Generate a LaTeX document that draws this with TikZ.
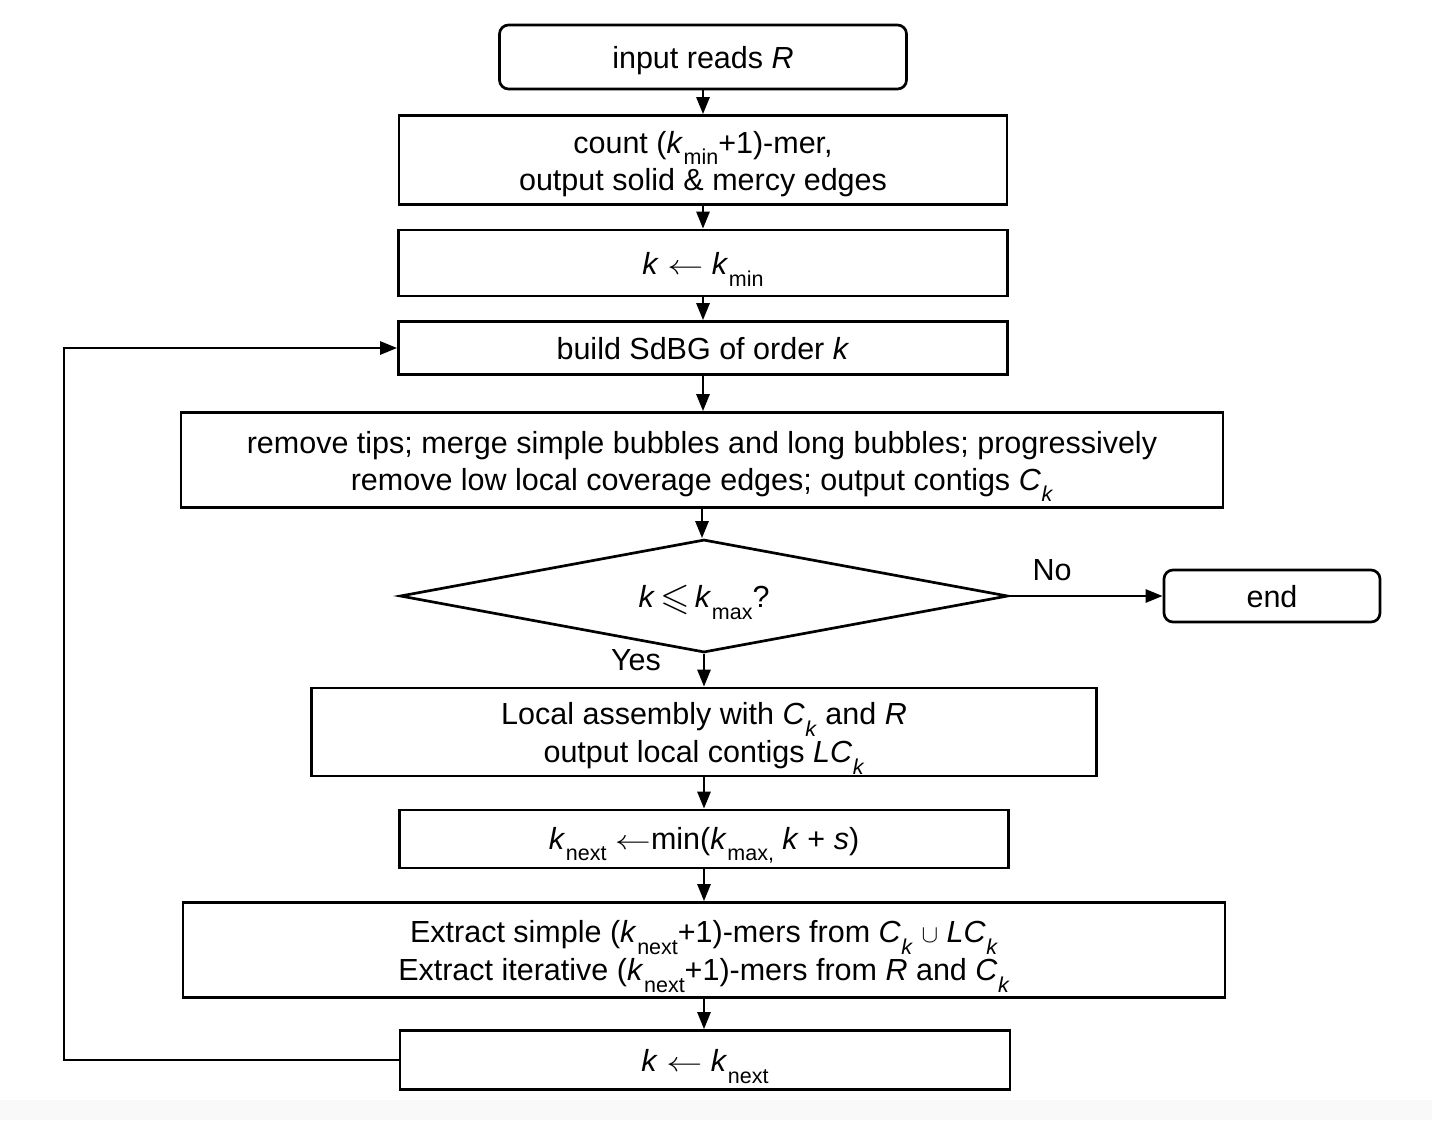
\documentclass[tikz,border=0pt]{standalone}
\usepackage{fontspec}
\setmainfont{Liberation Sans}
\usepackage{amssymb}
\usepackage{graphicx}
\usetikzlibrary{arrows.meta,shapes.geometric}
% lowered subscript in text, italic variable, long left arrow
\newcommand\lo[1]{\kern0.5pt\raisebox{-0.72ex}{\fontsize{21.5}{21.5}\selectfont #1}}
\newcommand\vr[1]{\textit{#1}}
\newcommand\assignarrow{\scalebox{1.45}[1.1]{$\leftarrow$}}
\newcommand\leqs{\,\raisebox{-0.1ex}{\scalebox{1.25}{$\leqslant$}}\,}
% box text: lines on a fixed strut grid, so subscripts do not move the text
\newcommand\tx[1]{\raisebox{-4.5pt}[\height][\depth]{\begin{tabular}{@{}c@{}}#1\end{tabular}}}

\begin{document}
\begin{tikzpicture}[x=1pt,y=-1pt,
  every node/.style={font=\fontsize{30.5}{37}\selectfont, inner sep=0pt},
  box/.style={draw, line width=2.7pt, rectangle},
  term/.style={box, rounded corners=9pt},
  flow/.style={line width=2.7pt, -{Triangle[length=17pt,width=13pt]}}]
\useasboundingbox (0,0) rectangle (1432,1120);
\fill[gray!5] (0,1100) rectangle (1432,1120);

\node[term, minimum width=407, minimum height=64] (in) at (703,57) {\tx{input reads \vr{R}}};
\node[box, minimum width=608, minimum height=89] (cnt) at (703,160)
  {\tx{count (\vr{k}\lo{min}+1)-mer,\\output solid \& mercy edges}};
\node[box, minimum width=609, minimum height=66] (kmin) at (703,263)
  {\tx{\vr{k} \assignarrow\ \vr{k}\lo{min}}};
\node[box, minimum width=609, minimum height=53] (sdbg) at (703,348)
  {\tx{build SdBG of order \vr{k}}};
\node[box, minimum width=1042, minimum height=95] (rm) at (702,460)
  {\tx{remove tips; merge simple bubbles and long bubbles; progressively\\remove low local coverage edges; output contigs \vr{C}\lo{\vr{k}}}};
\node[diamond, draw, line width=2.7pt, aspect=5.4, minimum width=608, minimum height=113] (dec) at (704,596)
  {\tx{\vr{k}\leqs\vr{k}\lo{max}?}};
\node[term, minimum width=216, minimum height=52] (end) at (1272,596) {\tx{end}};
\node[box, minimum width=785, minimum height=88] (loc) at (704,732)
  {\tx{Local assembly with \vr{C}\lo{\vr{k}} and \vr{R}\\output local contigs \vr{LC}\lo{\vr{k}}}};
\node[box, minimum width=609, minimum height=58] (nxt) at (704,839)
  {\tx{\vr{k}\lo{next} \assignarrow min(\vr{k}\lo{max,} \vr{k} + \vr{s})}};
\node[box, minimum width=1042, minimum height=95] (ext) at (704,950)
  {\tx{Extract simple (\vr{k}\lo{next}+1)-mers from \vr{C}\lo{\vr{k}} $\cup$ \vr{LC}\lo{\vr{k}}\\Extract iterative (\vr{k}\lo{next}+1)-mers from \vr{R} and \vr{C}\lo{\vr{k}}}};
\node[box, minimum width=610, minimum height=59] (kk) at (705,1060)
  {\tx{\vr{k} \assignarrow\ \vr{k}\lo{next}}};

\node (no) at (1052,570) {No};
\node (yes) at (636,660) {Yes};
\coordinate (lp) at (64,1060);

\draw[flow] (in.south) -- (in.south |- cnt.north);
\draw[flow] (cnt.south) -- (cnt.south |- kmin.north);
\draw[flow] (kmin.south) -- (kmin.south |- sdbg.north);
\draw[flow] (sdbg.south) -- (sdbg.south |- rm.north);
\draw[flow] (rm.south) -- (rm.south |- dec.north);
\draw[flow] (dec.south) -- (dec.south |- loc.north);
\draw[flow] (loc.south) -- (loc.south |- nxt.north);
\draw[flow] (nxt.south) -- (nxt.south |- ext.north);
\draw[flow] (ext.south) -- (ext.south |- kk.north);
\draw[flow] (dec.east) -- (end.west);
\draw[flow] (kk.west) -- (lp) |- (sdbg.west);
\end{tikzpicture}
\end{document}
